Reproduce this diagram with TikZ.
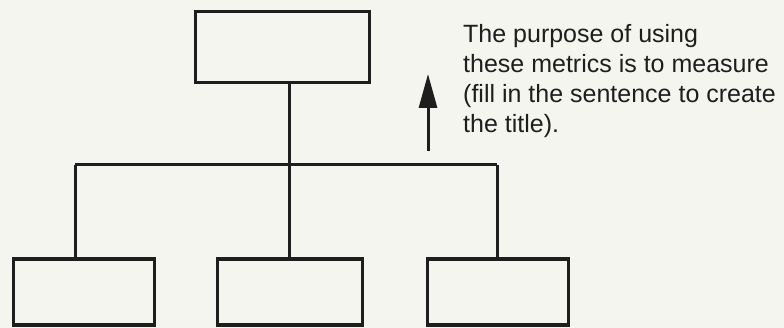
\documentclass[tikz,border=0pt]{standalone}
\usepackage{fontspec}
\setmainfont{Liberation Sans}
\usepackage{tikz}
\usetikzlibrary{arrows.meta,positioning}
\definecolor{paper}{RGB}{245,245,240}
\definecolor{ink}{RGB}{30,30,30}
\tikzset{
  orgbox/.style={
    draw=ink,fill=paper,line width=3.2pt,inner sep=0pt,outer sep=0pt
  },
  topbox/.style={orgbox,minimum width=174pt,minimum height=71pt},
  subbox/.style={orgbox,minimum width=141pt,minimum height=66pt},
  treeline/.style={draw=ink,line width=3pt},
  uparrow/.style={-{Triangle[length=34pt,width=18pt]},draw=ink,fill=ink,line width=3pt},
  notetext/.style={
    font=\fontsize{25}{30}\selectfont,align=left,anchor=base west,
    inner sep=0pt,text=ink
  }
}
\begin{document}
\begin{tikzpicture}[x=1pt,y=-1pt]
  \useasboundingbox[fill=paper] (0,0) rectangle (784,328);
  % top of the tree
  \node[topbox] (top) at (282.5,47) {};
  \coordinate (hub) at (289,165);
  \coordinate (left) at (75,165);
  \coordinate (right) at (497,165);
  % lower level
  \node[subbox] (sub1) at (84,292) {};
  \node[subbox,minimum width=145pt] (sub2) at (290,292) {};
  \node[subbox] (sub3) at (498,292) {};
  \draw[treeline] (top.south -| hub) -- (hub);
  \draw[treeline] (left) -- (right);
  \draw[treeline] (left) -- (left |- sub1.north);
  \draw[treeline] (hub) -- (hub |- sub2.north);
  \draw[treeline] (right) -- (right |- sub3.north);
  % note with arrow
  \coordinate (tail) at (428,151);
  \coordinate (tip) at (428,74);
  \draw[uparrow] (tail) -- (tip);
  \node[notetext] (note) at (463,133) {The purpose of using\\
    these metrics is to measure\\
    (fill in the sentence to create\\
    the title).};
\end{tikzpicture}
\end{document}
